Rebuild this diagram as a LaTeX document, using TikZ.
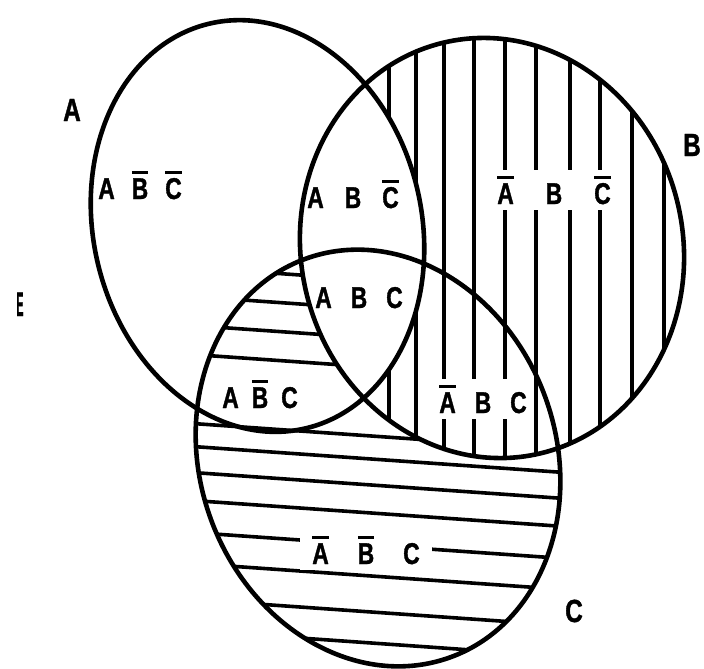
\documentclass[tikz,border=0pt]{standalone}
\usepackage{fontspec}
\newfontfamily\lettering{Liberation Sans}[FakeStretch=0.76, BoldFeatures={FakeBold=1.2}]
\usetikzlibrary{positioning}

\newcommand\ovl[1]{\setbox0\hbox{#1}\rlap{\raisebox{\dimexpr\ht0+4pt\relax}{\rule{\wd0}{3pt}}}\box0}

\begin{document}
\begin{tikzpicture}[
    x=1pt, y=-1pt,
    rim/.style={line width=4.6pt},
    hatch/.style={line width=3.6pt},
    lab/.style={font=\lettering\bfseries\fontsize{30}{30}\selectfont, fill=white, inner xsep=3pt, inner ysep=6pt, anchor=base},
    setname/.style={font=\lettering\bfseries\fontsize{32}{32}\selectfont, anchor=base},
    setA/.style={rotate around={13.6:(cA)}},
    setB/.style={rotate around={13:(cB)}},
    setC/.style={rotate around={20:(cC)}}
  ]
  \useasboundingbox (0,0) rectangle (704,669);
  \coordinate (cA) at (257.5,226);
  \coordinate (cB) at (492,248);
  \coordinate (cC) at (378,458);

  % C outside B: horizontal lines
  \begin{scope}
    \clip[setC] (cC) ellipse [x radius=178pt, y radius=212pt];
    \foreach \y in {268,297,326,355,424,447,473,501,533,564,600,631,661}
      \draw[hatch] (150,\y-3.5) -- (620,\y+29.4);
  \end{scope}
  \fill[white, setB] (cB) ellipse [x radius=191pt, y radius=211pt];

  % B outside A: vertical lines
  \begin{scope}
    \clip[setB] (cB) ellipse [x radius=191pt, y radius=211pt];
    \foreach \x in {389,416,444,474,505,536,570,600,632,664}
      \draw[hatch] (\x,20) -- (\x,480);
    \fill[white, setA] (cA) ellipse [x radius=164pt, y radius=208pt];
  \end{scope}

  % region labels
  \node[lab] (abncn) at (140,199) {A\hspace{17pt}\ovl{B}\hspace{17pt}\ovl{C}};
  \node[lab] (abcn) at (353,208) {A\hspace{21pt}B\hspace{21pt}\ovl{C}};
  \node[lab] (nabcn) at (554,204) {\ovl{A}\hspace{32pt}B\hspace{32pt}\ovl{C}};
  \node[lab] (abc) at (359,308) {A\hspace{19pt}B\hspace{19pt}C};
  \node[lab] (anbc) at (260,408) {A\hspace{13pt}\ovl{B}\hspace{13pt}C};
  \node[lab] (nabc) at (483,413) {\ovl{A}\hspace{19pt}B\hspace{19pt}C};
  \node[lab, inner xsep=12pt] (nanbc) at (366,564) {\ovl{A}\hspace{29pt}\ovl{B}\hspace{29pt}C};

  % set names
  \node[setname] (nameA) at (72,121) {A};
  \node[setname] (nameB) at (692,156) {B};
  \node[setname] (nameC) at (574,622) {C};
  \node[font=\lettering\bfseries\fontsize{34}{34}\selectfont, anchor=base] (univ) at (20,316) {\scalebox{0.4}[1]{E}};

  % outlines
  \draw[rim, setA] (cA) ellipse [x radius=164pt, y radius=208pt];
  \draw[rim, setB] (cB) ellipse [x radius=191pt, y radius=211pt];
  \draw[rim, setC] (cC) ellipse [x radius=178pt, y radius=212pt];
\end{tikzpicture}
\end{document}
